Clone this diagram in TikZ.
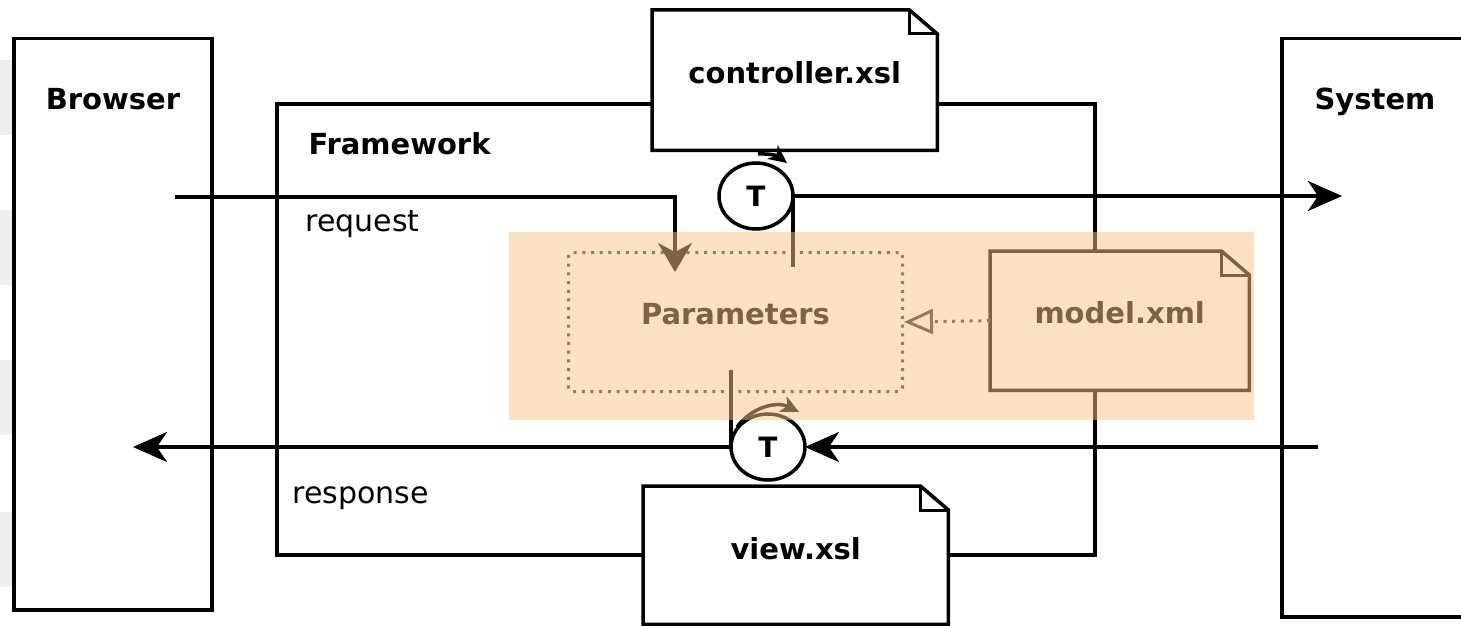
\documentclass[tikz,border=0pt]{standalone}
\usepackage{fontspec}
\setmainfont{DejaVu Sans}
\usetikzlibrary{arrows.meta,shapes.geometric}
\definecolor{peach}{RGB}{251,196,137}
\definecolor{stripe}{RGB}{239,239,239}
\begin{document}
\begin{tikzpicture}[x=1pt,y=-1pt,
  box/.style={draw, line width=3.5pt, fill=white, inner sep=0pt},
  ln/.style={line width=3.5pt},
  big/.style={-{Stealth[length=34pt,width=30pt,inset=10pt]}},
  title/.style={font=\fontsize{29}{34}\selectfont\bfseries},
  plain/.style={font=\fontsize{30}{36}\selectfont},
  note/.style={fill=white, inner sep=0pt, anchor=north west},
  tnode/.style={ellipse, draw, line width=3.5pt, fill=white, minimum width=74pt, minimum height=66pt, inner sep=0pt, outer sep=0pt, font=\fontsize{28}{32}\selectfont\bfseries},
  rot/.style={line width=3.5pt, -{Stealth[length=18pt,width=17pt,inset=5pt]}},
  dots/.style={line width=3pt, dash pattern=on 3pt off 5.7pt, draw=black!80}
]
\useasboundingbox (0,0) rectangle (1461,626);
\clip (0,0) rectangle (1461,626);
\foreach \y in {60,210,360,512} \fill[stripe] (0,\y) rectangle (12,\y+75);

% outer boxes
\node[box, minimum width=198pt, minimum height=571pt, anchor=north west] (browser) at (12,37) {};
\node[title, anchor=base] (browserlbl) at (113,109) {Browser};
\node[box, minimum width=220pt, minimum height=578pt, anchor=north west] (system) at (1280,37) {};
\node[title, anchor=base] (systemlbl) at (1375,109) {System};
\node[box, minimum width=818pt, minimum height=451pt, anchor=north west] (frame) at (275,102) {};
\node[title, anchor=base west] (fwlbl) at (305,154) {Framework};
\node[plain, anchor=base west] (reqlbl) at (302,231) {request};
\node[plain, anchor=base west] (resplbl) at (289,503) {response};

% notes
\node[note, minimum width=285pt, minimum height=140pt] (ctrl) at (652,10) {};
\node[note, minimum width=305pt, minimum height=138pt] (view) at (643,486) {};
\node[note, minimum width=259pt, minimum height=139pt] (model) at (990,251) {};
\foreach \n in {ctrl,view,model} {
  \draw[ln, line join=miter] (\n.north west) -- ([xshift=-28pt]\n.north east) -- ([yshift=-24pt]\n.north east) -- (\n.south east) -- (\n.south west) -- cycle;
  \draw[line width=3pt] ([xshift=-28pt]\n.north east) |- ([yshift=-24pt]\n.north east);
}
\node[title] (ctrllbl) at ([yshift=8pt]ctrl.center) {controller.xsl};
\node[title] (viewlbl) at ([yshift=7pt]view.center) {view.xsl};
\node[title] (modellbl) at ([yshift=8pt]model.center) {model.xml};

% parameters
\node[dots, rounded corners=4pt, minimum width=334pt, minimum height=139pt, inner sep=0pt, anchor=north west] (params) at (567,251) {};
\node[title] (paramslbl) at ([yshift=8pt]params.center) {Parameters};

% transformer circles
\node[tnode] (T1) at (756,196) {T};
\node[tnode] (T2) at (768,447) {T};

% connectors
\coordinate (reqstart) at (175,197);
\coordinate (reqend) at (675,272);
\draw[ln, -{Stealth[length=29pt,width=34pt,inset=9pt]}] (reqstart) -| (reqend);
\coordinate (p1) at (T1.east |- 0,267);
\draw[ln] (p1) -- (T1.east);
\coordinate (sysreq) at (1342,196);
\draw[ln, big] (T1.east) -- (sysreq);
\coordinate (sysresp) at (1318,447);
\draw[ln, big] (sysresp) -- (T2.east);
\coordinate (brresp) at (133,447);
\draw[ln, big] (T2.west) -- (brresp);
\coordinate (p2) at (T2.west |- 0,370);
\draw[ln] (p2) -- (T2.west);
\draw[rot] ([shift={(2,-42)}]T1.center) to[bend left=20] ([shift={(31,-33)}]T1.center);
\draw[rot] ([shift={(-31,-20)}]T2.center) to[bend left=40] ([shift={(31,-35)}]T2.center);
\draw[dots, -{Triangle[open, length=29pt, width=25pt, line width=3pt]}] (model.west) -- (params.east);

% highlight overlay
\fill[peach, opacity=0.5] (509,232) rectangle (1254,420);
\end{tikzpicture}
\end{document}
